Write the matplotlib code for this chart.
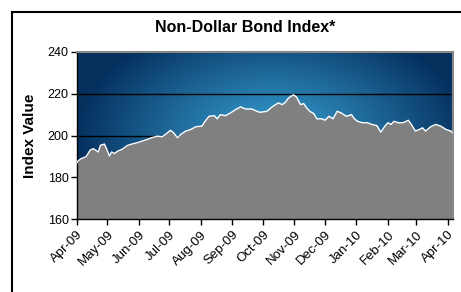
import numpy as np
import pandas as pd
import matplotlib
matplotlib.use("Agg")
import matplotlib.pyplot as plt
import matplotlib.dates as mdates
from matplotlib.patches import Rectangle

dates = ["2009-04-01","2009-04-02","2009-04-05","2009-04-10","2009-04-14","2009-04-17","2009-04-22",
         "2009-04-24","2009-04-28","2009-04-30","2009-05-03","2009-05-05","2009-05-08","2009-05-11",
         "2009-05-15","2009-05-21","2009-05-25","2009-05-30","2009-06-04","2009-06-09","2009-06-14",
         "2009-06-19","2009-06-24","2009-06-27","2009-07-02","2009-07-05","2009-07-09","2009-07-12",
         "2009-07-17","2009-07-22","2009-07-27","2009-08-02","2009-08-05","2009-08-09","2009-08-14",
         "2009-08-17","2009-08-20","2009-08-25","2009-08-30","2009-09-04","2009-09-09","2009-09-14",
         "2009-09-20","2009-09-25","2009-09-28","2009-10-05","2009-10-10","2009-10-16","2009-10-20",
         "2009-10-23","2009-10-26","2009-10-31","2009-11-03","2009-11-07","2009-11-10","2009-11-13",
         "2009-11-16","2009-11-20","2009-11-23","2009-11-28","2009-12-01","2009-12-05","2009-12-09",
         "2009-12-13","2009-12-17","2009-12-22","2009-12-27","2009-12-30","2010-01-02","2010-01-07",
         "2010-01-12","2010-01-16","2010-01-21","2010-01-25","2010-01-29","2010-02-01","2010-02-04",
         "2010-02-07","2010-02-11","2010-02-16","2010-02-21","2010-02-24","2010-02-28","2010-03-04",
         "2010-03-07","2010-03-10","2010-03-15","2010-03-20","2010-03-25","2010-03-30","2010-04-04",
         "2010-04-05"]
values = [187.0,187.8,188.9,189.9,193.0,193.7,192.1,
          195.3,195.9,193.7,190.2,192.1,191.4,192.5,
          193.3,195.3,195.9,196.5,197.3,198.1,199.0,
          199.7,199.4,200.5,202.5,201.3,198.9,200.5,
          202.1,202.9,204.2,204.5,206.8,209.2,209.5,
          208.0,210.0,209.5,210.8,212.4,213.7,212.7,
          212.7,211.6,211.1,211.6,213.7,215.6,214.8,
          215.9,217.9,219.5,218.4,214.8,215.3,213.2,
          211.6,210.5,208.0,208.0,207.3,209.2,208.0,
          211.6,210.8,209.2,210.0,208.0,206.8,206.1,
          206.1,205.3,204.8,201.6,204.5,206.1,205.3,
          206.8,206.1,206.1,207.3,205.3,202.1,202.9,
          203.7,202.1,204.2,205.3,204.5,202.9,202.1,
          201.5]
tick_labels = ["Apr-09","May-09","Jun-09","Jul-09","Aug-09","Sep-09","Oct-09",
               "Nov-09","Dec-09","Jan-10","Feb-10","Mar-10","Apr-10"]
yticks = [160, 180, 200, 220, 240]

plt.rcParams['font.family'] = ['Liberation Sans', 'DejaVu Sans']

x = pd.to_datetime(dates)
tick_dates = pd.date_range("2009-04-01", periods=len(tick_labels), freq="MS")

fig = plt.figure(figsize=(4.61, 2.92), dpi=100)
W, H = 461, 292
ax = fig.add_axes([77/W, 1-219/H, (453-77)/W, (219-52)/H])

xmin = mdates.date2num(pd.Timestamp("2009-04-01"))
xmax = mdates.date2num(pd.Timestamp("2010-04-06"))
ax.set_xlim(xmin, xmax)
ax.set_ylim(160, 240)

# radial gradient background
ny, nx = 200, 400
gx = np.linspace(0, 1, nx)
gy = np.linspace(0, 1, ny)
GX, GY = np.meshgrid(gx, gy)
cx, cy = 0.52, 0.50
r = np.sqrt(((GX - cx) / 0.52) ** 2 + ((GY - cy) / 0.72) ** 2)
t = np.clip(r, 0, 1) ** 1.1
c_in = np.array([0.21, 0.62, 0.82])
c_out = np.array([0.02, 0.19, 0.37])
img = c_in[None, None, :] * (1 - t[..., None]) + c_out[None, None, :] * t[..., None]
ax.imshow(img, extent=[xmin, xmax, 160, 240], origin="lower", aspect="auto", zorder=0)

for yv in [200, 220]:
    ax.axhline(yv, color="black", lw=1.0, zorder=1)

xn = mdates.date2num(x)
ax.fill_between(xn, 160, values, color="#808080", zorder=2, lw=0)
ax.plot(xn, values, color="white", lw=1.0, zorder=3)

ax.set_yticks(yticks)
ax.set_yticklabels([str(v) for v in yticks], fontsize=9)
ax.set_xticks(mdates.date2num(tick_dates))
ax.set_xticklabels(tick_labels, rotation=45, ha="right", rotation_mode="anchor", fontsize=9.5)
ax.tick_params(axis="both", direction="out", length=4, width=1, color="black", pad=2)
ax.tick_params(axis="x", pad=3)

for s in ["left", "bottom"]:
    ax.spines[s].set_color("black")
    ax.spines[s].set_linewidth(1.0)
for s in ["top", "right"]:
    ax.spines[s].set_color("#888888")
    ax.spines[s].set_linewidth(1.5)

ax.set_ylabel("Index Value", fontsize=11, fontweight="bold", labelpad=8)
fig.text(245/W, 1-27/H, "Non-Dollar Bond Index*", ha="center", va="center",
         fontsize=11.5, fontweight="bold")

# outer frame
fig.patches.append(Rectangle((12/W, -0.1), 1.2, 1-12/H+0.1, transform=fig.transFigure,
                             fill=False, edgecolor="black", lw=1.5))

fig.savefig("out.png", dpi=100)
